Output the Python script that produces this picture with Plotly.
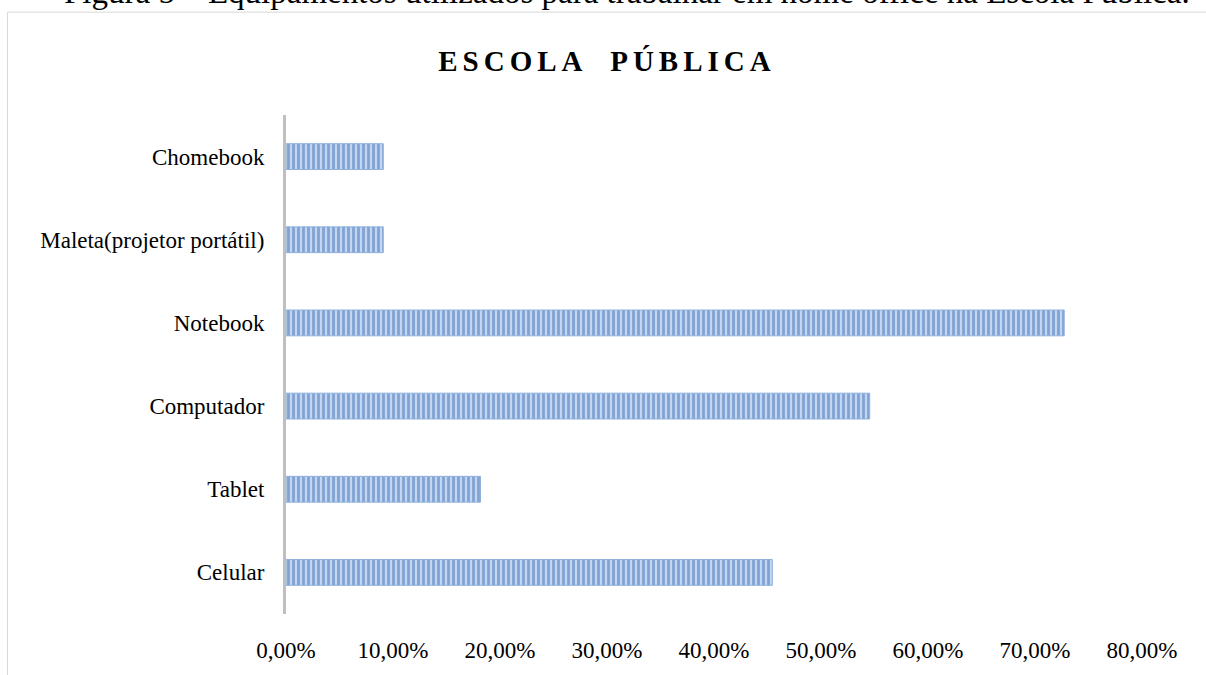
import plotly.graph_objects as go

categories = ["Celular", "Tablet", "Computador", "Notebook", "Maleta(projetor portátil)", "Chomebook"]
values = [0.4545, 0.1818, 0.5455, 0.7273, 0.0909, 0.0909]
x_ticks = [0, 0.1, 0.2, 0.3, 0.4, 0.5, 0.6, 0.7, 0.8]
title_text = "ESCOLA PÚBLICA"
caption_text = "Figura 5 – Equipamentos utilizados para trabalhar em home office na Escola Pública."

W, H = 1206, 675
L, R, T, B = 286, 64, 115, 53
pw, ph = W - L - R, H - T - B

def px_to_paper_x(px):
    return (px - L) / pw

def px_to_paper_y(py):
    return (H - B - py) / ph

fig = go.Figure()
fig.add_trace(go.Bar(
    x=values, y=categories, orientation="h",
    marker=dict(
        color="#c2d4ee",
        line=dict(color="#8fb0dc", width=1),
        pattern=dict(shape="|", fgcolor="#3a6fb8", bgcolor="#c4d6ef", size=5, solidity=0.55),
    ),
    width=0.31,
    hoverinfo="skip",
))

fig.update_layout(
    width=W, height=H,
    margin=dict(l=L, r=R, t=T, b=B, pad=0),
    paper_bgcolor="white", plot_bgcolor="white",
    separators=", ",
    showlegend=False,
    font=dict(family="Liberation Serif, Times New Roman, serif", color="#000000", size=23),
    title=dict(
        text="<b>" + title_text + "</b>",
        xref="container", yref="container",
        x=607 / W, y=1 - 61 / H, xanchor="center", yanchor="middle",
        font=dict(family="Liberation Serif, Times New Roman, serif", size=29, color="#000000"),
    ),
    xaxis=dict(
        range=[0, 0.8], tickvals=x_ticks, tickformat=".2%",
        showgrid=False, zeroline=False, showline=False, ticks="",
        ticklabelstandoff=20,
        tickfont=dict(size=23, color="#000000"),
        fixedrange=True,
    ),
    yaxis=dict(
        showgrid=False, zeroline=False,
        showline=True, linecolor="#bfbfbf", linewidth=3,
        ticks="", ticklabelstandoff=14,
        tickfont=dict(size=23, color="#000000"),
        fixedrange=True,
    ),
)

# outer chart border (extends past right and bottom edges)
fig.add_shape(
    type="rect", xref="paper", yref="paper",
    x0=px_to_paper_x(7.5), x1=px_to_paper_x(W + 20),
    y0=px_to_paper_y(H + 20), y1=px_to_paper_y(10.5),
    line=dict(color="#d9d9d9", width=1), fillcolor="rgba(0,0,0,0)", layer="below",
)

# partially visible caption at the top (cut by the page edge, as in the reference)
fig.add_annotation(
    text=caption_text, xref="paper", yref="paper",
    x=px_to_paper_x(627), y=px_to_paper_y(-10),
    xanchor="center", yanchor="middle", showarrow=False,
    font=dict(family="Liberation Serif, Times New Roman, serif", size=33, color="#000000"),
)

post = """
var t = document.querySelector('.gtitle');
if (t) { t.style.letterSpacing = '5px'; t.style.wordSpacing = '12px'; }
"""
fig.write_html("out.html", post_script=post)
